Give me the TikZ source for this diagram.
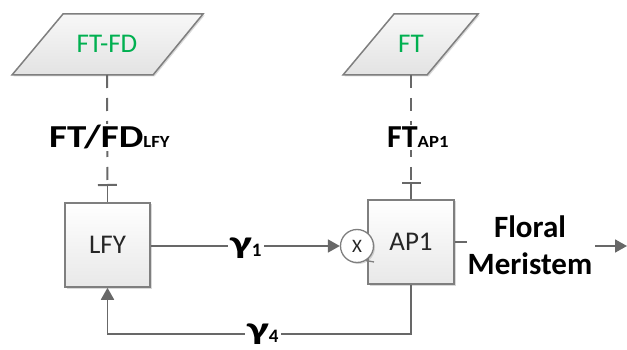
\documentclass[tikz,border=0pt]{standalone}
\usepackage{fontspec}
\setmainfont{Carlito}
\usetikzlibrary{arrows.meta,shadows,calc}
\definecolor{ln}{HTML}{686868}
\definecolor{bd}{HTML}{7F7F7F}
\definecolor{grn}{HTML}{00B050}
\definecolor{txt}{HTML}{262626}
\newcommand{\subtxt}[1]{{\fontsize{17}{17}\selectfont\scalebox{1.1}[1]{#1}}}
\newcommand{\gam}[1]{\scalebox{1.45}[1]{γ}{\fontsize{19}{19}\selectfont\raisebox{-3pt}{#1}}}
\begin{document}
\begin{tikzpicture}[x=1pt,y=-1pt,
  shad/.style={drop shadow={opacity=0.3, shadow xshift=1.5pt, shadow yshift=-1.5pt}},
  box/.style={draw=bd, line width=1.5pt, top color=white, bottom color=black!9, shad,
    minimum width=85pt, minimum height=84pt, inner sep=0pt,
    font=\fontsize{27}{27}\selectfont, text=txt},
  para/.style={draw=bd, line width=1.5pt, top color=black!3, bottom color=black!11, shad},
  ptext/.style={font=\fontsize{27}{27}\selectfont, text=grn, inner sep=0pt},
  conn/.style={draw=ln, line width=1.8pt},
  dline/.style={conn, line width=2pt, dash pattern=on 13pt off 10pt},
  lbl/.style={fill=white, inner sep=2pt, text=black, font=\fontsize{32}{32}\selectfont\bfseries},
  tipa/.style={-{Triangle[length=12pt,width=13pt]}},
  inhib/.style={-{Bar[width=19pt]}},
  circ/.style={circle, draw=bd, line width=1.3pt, fill=white, minimum size=33pt, inner sep=0pt,
    font=\fontsize{19}{19}\selectfont, text=txt, shad}
]
\useasboundingbox (0,0) rectangle (627,350);

% input parallelograms
\path[para] (63,14) -- (203,14) -- (153,75) -- (12,75) -- cycle;
\path[para] (394,14) -- (478,14) -- (427,75) -- (343,75) -- cycle;
\node[ptext] (ftfd) at (107,44) {FT-FD};
\node[ptext] (ft) at (411,44) {FT};
\coordinate (ftfdb) at (107,75);
\coordinate (ftb) at (411,75);

% boxes
\node[box] (lfy) at (107.5,245) {LFY};
\node[box, minimum width=86pt] (ap1) at (411,242) {AP1};
\node[circ] (mul) at (357,246) {X};
\draw[draw=bd, line width=1.3pt] (mul.-58) -- (374,262);

% inhibition links
\coordinate (lfybar) at (107.5,186);
\coordinate (ap1bar) at (411,184);
\draw[dline, inhib] (ftfdb) -- (lfybar);
\draw[conn] (lfybar) -- (lfy.north);
\draw[dline, inhib] (ftb) -- (ap1bar);
\draw[conn] (ap1bar) -- (ap1.north);

% flows
\draw[conn, tipa] (lfy.east |- mul.west) -- (mul.west);
\draw[conn, tipa] (ap1.south) -- ++(0,49) -| (lfy.south);
\draw[conn] (ap1.east) -- ++(12,0);
\coordinate (outs) at (595,246);
\coordinate (oute) at (627,246);
\draw[conn, tipa] (outs) -- (oute);

% labels
\node[lbl, anchor=base west] (lab1) at (47,148) {\scalebox{1.22}[1]{FT/FD}\subtxt{LFY}};
\node[lbl, anchor=base west] (lab2) at (385,148) {FT\subtxt{AP1}};
\node[lbl, anchor=base west] (g1) at (228,253) {\gam{1}};
\node[lbl, anchor=base west] (g4) at (245,339) {\gam{4}};
\node[font=\fontsize{31}{37}\selectfont\bfseries, align=center, inner sep=0pt] (fm) at (530,245) {Floral\\Meristem};
\end{tikzpicture}
\end{document}
